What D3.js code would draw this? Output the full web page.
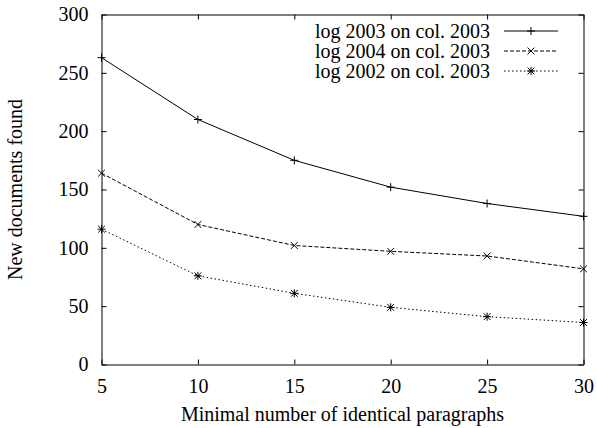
<!DOCTYPE html>
<html>
<head>
<meta charset="utf-8">
<script src="https://cdn.jsdelivr.net/npm/d3@7"></script>
<style>
  body { margin: 0; background: #fff; }
  text { font-family: "Liberation Serif", "Times New Roman", serif; fill: #000; }
</style>
</head>
<body>
<svg id="chart"></svg>
<script>
// data
const paragraphs = [5, 10, 15, 20, 25, 30];
const seriesNames = ["log 2003 on col. 2003", "log 2004 on col. 2003", "log 2002 on col. 2003"];
const log2003 = [263, 210, 175, 152, 138, 127];
const log2004 = [164, 120, 102, 97, 93, 82];
const log2002 = [116, 76, 61, 49, 41, 36];
const xTicks = [5, 10, 15, 20, 25, 30];
const yTicks = [0, 50, 100, 150, 200, 250, 300];

const series = [log2003, log2004, log2002];
const dashes = [null, "4,2", "1.5,2.5"];
const markers = [["plus"], ["times"], ["plus", "times"]];

const width = 597, height = 428;
const margin = { top: 14.5, right: 13.5, bottom: 63.5, left: 101.5 };
const fontSize = 20;

const svg = d3.select("#chart")
  .attr("width", width)
  .attr("height", height);

const x = d3.scaleLinear().domain([5, 30]).range([margin.left, width - margin.right]);
const y = d3.scaleLinear().domain([0, 300]).range([height - margin.bottom, margin.top]);

// axes, ticks pointing inwards on all four sides
svg.append("g")
  .attr("transform", "translate(0," + y(0) + ")")
  .call(d3.axisBottom(x).tickValues(xTicks).tickSize(-5).tickSizeOuter(0).tickPadding(14))
  .call(g => g.selectAll("text").style("font-size", fontSize + "px"));

svg.append("g")
  .attr("transform", "translate(0," + y(300) + ")")
  .call(d3.axisTop(x).tickValues(xTicks).tickSize(-5).tickSizeOuter(0).tickFormat(""));

svg.append("g")
  .attr("transform", "translate(" + x(5) + ",0)")
  .call(d3.axisLeft(y).tickValues(yTicks).tickSize(-5).tickSizeOuter(0).tickPadding(13))
  .call(g => g.selectAll("text").style("font-size", fontSize + "px"));

svg.append("g")
  .attr("transform", "translate(" + x(30) + ",0)")
  .call(d3.axisRight(y).tickValues(yTicks).tickSize(-5).tickSizeOuter(0).tickFormat(""));

svg.selectAll(".domain").attr("stroke", "#000");
svg.selectAll(".tick line").attr("stroke", "#000");
svg.selectAll(".tick text").attr("font-family", null);

// axis titles
svg.append("text")
  .attr("x", (x(5) + x(30)) / 2)
  .attr("y", 421)
  .attr("text-anchor", "middle")
  .style("font-size", fontSize + "px")
  .text("Minimal number of identical paragraphs");

svg.append("text")
  .attr("transform", "translate(22," + (y(0) + y(300)) / 2 + ") rotate(-90)")
  .attr("text-anchor", "middle")
  .style("font-size", fontSize + "px")
  .text("New documents found");

// point symbols
const symbolPath = {
  plus: d3.symbol(d3.symbolPlus, 23)(),
  times: d3.symbol(d3.symbolTimes, 32)()
};

function drawMarks(g, cx, cy, types) {
  types.forEach(t => {
    g.append("path")
      .attr("transform", "translate(" + cx + "," + cy + ")")
      .attr("d", symbolPath[t])
      .attr("fill", "none")
      .attr("stroke", "#000")
      .attr("stroke-width", 1);
  });
}

const line = d3.line()
  .x((d, i) => x(paragraphs[i]))
  .y(d => y(d));

series.forEach((vals, s) => {
  const g = svg.append("g");
  g.append("path")
    .datum(vals)
    .attr("d", line)
    .attr("fill", "none")
    .attr("stroke", "#000")
    .attr("stroke-width", 1)
    .attr("stroke-dasharray", dashes[s]);
  vals.forEach((v, i) => drawMarks(g, x(paragraphs[i]), y(v), markers[s]));
});

// legend
const legendRight = 490, sampleX0 = 504, sampleX1 = 558, rowY0 = 31, rowStep = 20;
seriesNames.forEach((name, s) => {
  const ry = rowY0 + s * rowStep;
  const g = svg.append("g");
  g.append("text")
    .attr("x", legendRight)
    .attr("y", ry + 6.5)
    .attr("text-anchor", "end")
    .style("font-size", fontSize + "px")
    .text(name);
  g.append("line")
    .attr("x1", sampleX0).attr("x2", sampleX1)
    .attr("y1", ry).attr("y2", ry)
    .attr("stroke", "#000")
    .attr("stroke-width", 1)
    .attr("stroke-dasharray", dashes[s]);
  drawMarks(g, (sampleX0 + sampleX1) / 2, ry, markers[s]);
});
</script>
</body>
</html>
